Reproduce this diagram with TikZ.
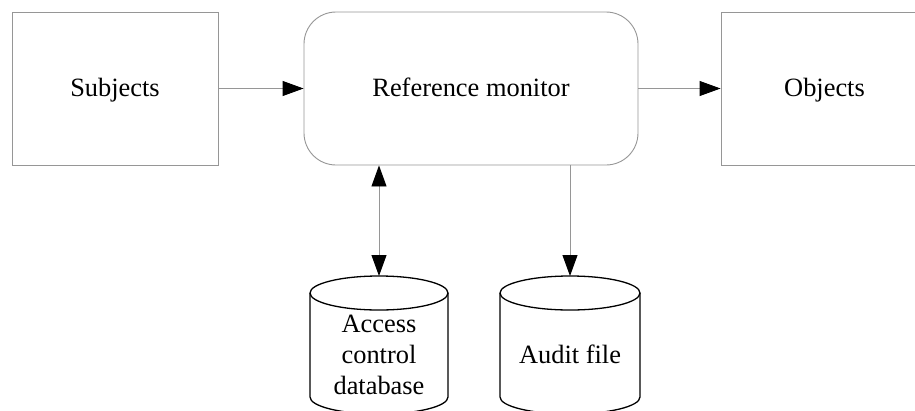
\documentclass[tikz,border=0pt]{standalone}
\usepackage{fontspec}
\setmainfont{Liberation Serif}
\usetikzlibrary{arrows.meta}
\definecolor{edgegray}{RGB}{150,150,150}
\tikzset{
  box/.style={draw=edgegray, line width=0.9pt, fill=white, inner sep=0pt},
  headtip/.tip={Triangle[length=21pt,width=15pt,fill=black,color=black]},
  conn/.style={draw=edgegray, line width=0.9pt, -headtip},
  dconn/.style={draw=edgegray, line width=0.9pt, headtip-headtip},
  cyl/.style={draw=black, line width=1.3pt},
  lbl/.style={font=\fontsize{26.4}{31}\selectfont, align=center, inner sep=0pt}
}
\begin{document}
\begin{tikzpicture}[x=1pt,y=-1pt]
\path[use as bounding box, clip] (0,0) rectangle (915,410);
\node[box, minimum width=206pt, minimum height=153pt] (subj) at (115,88.5) {};
\node[lbl, anchor=base] (subjtxt) at (115,96) {Subjects};
\node[box, rounded corners=32pt, minimum width=334pt, minimum height=153pt] (rm) at (471,88.5) {};
\node[lbl, anchor=base] (rmtxt) at (471,96) {Reference monitor};
\node[box, minimum width=207pt, minimum height=153pt] (obj) at (824.5,88.5) {};
\node[lbl, anchor=base] (objtxt) at (824.5,96) {Objects};
% cylinders
\draw[cyl] (310,293) -- (310,397) arc[start angle=180, end angle=360, x radius=69pt, y radius=17pt] -- (448,293);
\draw[cyl] (379,293) ellipse[x radius=69pt, y radius=17pt];
\coordinate (acdbtop) at (379,276);
\node[lbl] (acdb) at (379,355) {Access\\control\\database};
\draw[cyl] (500,293) -- (500,397) arc[start angle=180, end angle=360, x radius=70pt, y radius=17pt] -- (640,293);
\draw[cyl] (570,293) ellipse[x radius=70pt, y radius=17pt];
\coordinate (audittop) at (570,276);
\node[lbl, anchor=base] (audit) at (570,363) {Audit file};
% connectors
\draw[conn] (subj.east) -- (rm.west);
\draw[conn] (rm.east) -- (obj.west);
\draw[dconn] (acdbtop |- rm.south) -- (acdbtop);
\draw[conn] (audittop |- rm.south) -- (audittop);
\end{tikzpicture}
\end{document}
